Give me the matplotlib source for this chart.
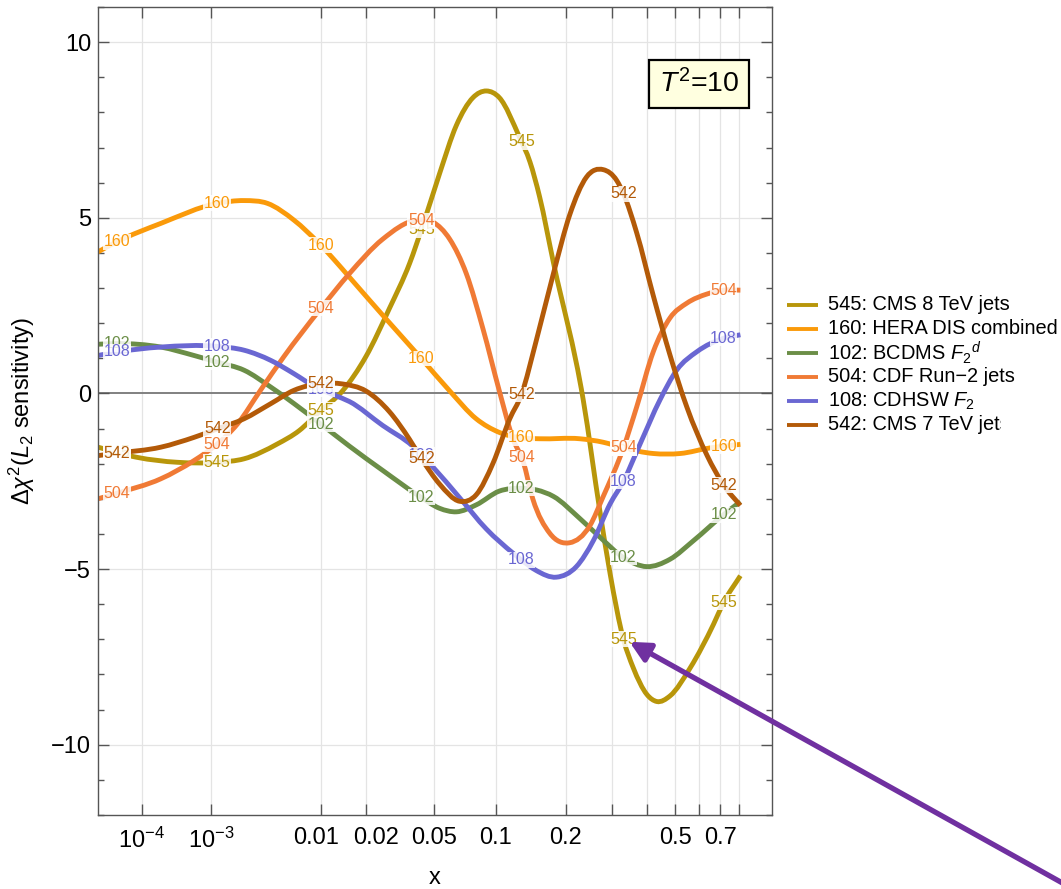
import numpy as np
import matplotlib
matplotlib.use("Agg")
import matplotlib.pyplot as plt
import matplotlib as mpl
from matplotlib.lines import Line2D
from matplotlib.path import Path
from matplotlib.patches import PathPatch
from matplotlib.transforms import Bbox, TransformedBbox, ScaledTranslation

mpl.rcParams['font.family'] = ['Liberation Sans', 'DejaVu Sans']
mpl.rcParams['mathtext.fontset'] = 'custom'
mpl.rcParams['mathtext.rm'] = 'Liberation Sans'
mpl.rcParams['mathtext.it'] = 'Liberation Sans:italic'
mpl.rcParams['mathtext.bf'] = 'Liberation Sans:bold'

# ---- data ----
x545 = [1e-5, 8.2e-5, 3.7e-4, 1.17e-3, 2.24e-3, 4.5e-3, 6.8e-3, 9.7e-3, 0.0141, 0.0201, 0.028, 0.0366,
        0.0433, 0.0532, 0.0648, 0.0782, 0.0906, 0.104, 0.128, 0.142, 0.156, 0.178, 0.234, 0.271, 0.296,
        0.331, 0.359, 0.401, 0.434, 0.481, 0.561, 0.666, 0.716, 0.806]
y545 = [-1.53, -1.82, -1.96, -1.96, -1.86, -1.44, -1.06, -0.52, 0.07, 1.05, 2.42, 3.70,
        4.78, 6.26, 7.63, 8.42, 8.61, 8.42, 7.29, 6.59, 5.6, 3.73, -0.18, -3.35, -5.14,
        -7.0, -7.81, -8.57, -8.77, -8.61, -7.81, -6.57, -5.95, -5.19]

x160 = [1e-5, 3.1e-5, 2.1e-4, 1.17e-3, 2.24e-3, 3.7e-3, 6.2e-3, 9.7e-3, 0.0124, 0.0157, 0.0255, 0.0416,
        0.06, 0.081, 0.104, 0.128, 0.156, 0.227, 0.279, 0.331, 0.422, 0.52, 0.65, 0.716, 0.806]
y160 = [4.03, 4.32, 4.84, 5.41, 5.49, 5.41, 4.93, 4.26, 3.8, 3.31, 2.23, 1.05,
        0.07, -0.72, -1.11, -1.26, -1.29, -1.29, -1.39, -1.55, -1.71, -1.71, -1.55, -1.50, -1.45]

x102 = [1e-5, 3.1e-5, 2.1e-4, 6.2e-4, 1.17e-3, 2.24e-3, 3.96e-3, 6.2e-3, 9.7e-3, 0.0157, 0.0255, 0.0416,
        0.0532, 0.0648, 0.0812, 0.104, 0.13, 0.152, 0.178, 0.227, 0.271, 0.331, 0.401, 0.481, 0.575,
        0.716, 0.806]
y102 = [1.40, 1.42, 1.32, 1.08, 0.89, 0.66, 0.18, -0.29, -0.84, -1.50, -2.19, -2.93,
        -3.27, -3.37, -3.17, -2.78, -2.70, -2.75, -2.93, -3.56, -4.09, -4.67, -4.93, -4.72, -4.19,
        -3.45, -3.08]

x504 = [1e-5, 3.1e-5, 2.1e-4, 6.2e-4, 1.17e-3, 1.92e-3, 3.2e-3, 5.1e-3, 9.7e-3, 0.0157, 0.0255, 0.0398,
        0.049, 0.06, 0.0726, 0.0873, 0.104, 0.12, 0.1326, 0.146, 0.172, 0.207, 0.248, 0.279, 0.331,
        0.369, 0.422, 0.481, 0.547, 0.635, 0.716, 0.806]
y504 = [-3.00, -2.84, -2.43, -1.91, -1.44, -0.87, 0.09, 1.04, 2.37, 3.41, 4.39, 4.93,
        4.88, 4.39, 3.41, 1.84, 0.07, -1.31, -1.93, -3.0, -3.98, -4.25, -3.77, -2.93, -1.55,
        -0.39, 1.19, 2.15, 2.57, 2.83, 2.94, 2.94]

x108 = [1e-5, 3.1e-5, 2.1e-4, 1.17e-3, 2.24e-3, 3.96e-3, 6.2e-3, 8.9e-3, 0.0124, 0.0157, 0.0255, 0.0381,
        0.049, 0.0673, 0.0906, 0.12, 0.1305, 0.151, 0.183, 0.22, 0.256, 0.296, 0.331, 0.379, 0.445,
        0.507, 0.59, 0.716, 0.806]
y108 = [1.08, 1.18, 1.32, 1.34, 1.23, 0.94, 0.56, 0.20, -0.05, -0.23, -0.91, -1.50,
        -2.09, -2.97, -3.86, -4.55, -4.74, -5.04, -5.23, -4.93, -4.19, -3.14, -2.50, -1.45, -0.18,
        0.67, 1.19, 1.57, 1.67]

x542 = [1e-5, 3.1e-5, 2.1e-4, 6.2e-4, 1.17e-3, 2.24e-3, 3.96e-3, 6.2e-3, 9.95e-3, 0.0141, 0.0201, 0.028,
        0.0366, 0.0425, 0.0532, 0.0673, 0.0812, 0.0972, 0.1159, 0.1305, 0.151, 0.178, 0.2075, 0.241,
        0.279, 0.313, 0.331, 0.369, 0.422, 0.481, 0.547, 0.635, 0.716, 0.806]
y542 = [-1.77, -1.70, -1.53, -1.25, -1.01, -0.72, -0.29, 0.09, 0.28, 0.27, 0.07, -0.52,
        -1.31, -1.85, -2.58, -3.07, -2.88, -1.99, -0.72, -0.03, 1.5, 3.41, 5.10, 6.16,
        6.37, 6.06, 5.69, 4.58, 2.78, 1.09, -0.39, -1.76, -2.61, -3.19]

ids = ["545", "160", "102", "504", "108", "542"]
names = ["545: CMS 8 TeV jets", "160: HERA DIS combined", r"102: BCDMS $F_2{}^d$",
         "504: CDF Run\u22122 jets", r"108: CDHSW $F_2$", "542: CMS 7 TeV jets"]
colors = ["#B8960A", "#FA9A0A", "#6B8E47", "#F07A35", "#6A67D2", "#B35A08"]
xs = [x545, x160, x102, x504, x108, x542]
ys = [y545, y160, y102, y504, y108, y542]

label_x = [3.1e-5, 1.17e-3, 9.95e-3, 0.0425, 0.1305, 0.331, 0.716]

xticks = [1e-4, 1e-3, 0.01, 0.02, 0.05, 0.1, 0.2, 0.3, 0.4, 0.5, 0.6, 0.7, 0.8]
xticklabels = [r"$10^{-4}$", r"$10^{-3}$", "0.01", "0.02", "0.05", "0.1", "0.2", "", "", "0.5", "", "0.7", ""]


def fwd(x):
    return np.power(np.clip(x, 1e-12, None), 0.2)


def inv(u):
    return np.power(np.clip(u, 0, None), 5)


def smooth_path(x, y):
    # cubic Bezier through the read points, built in the x**0.2 axis space
    x = np.asarray(x, float)
    y = np.asarray(y, float)
    u = fwd(x)
    h = np.diff(u)
    d = np.diff(y) / h
    m = np.empty(len(u))
    m[1:-1] = (h[:-1] * d[1:] + h[1:] * d[:-1]) / (h[:-1] + h[1:])
    m[0], m[-1] = d[0], d[-1]
    verts = [(x[0], y[0])]
    codes = [Path.MOVETO]
    for i in range(len(u) - 1):
        verts.append((inv(u[i] + h[i] / 3), y[i] + m[i] * h[i] / 3))
        verts.append((inv(u[i + 1] - h[i] / 3), y[i + 1] - m[i + 1] * h[i] / 3))
        verts.append((x[i + 1], y[i + 1]))
        codes += [Path.CURVE4] * 3
    return Path(verts, codes)


fig = plt.figure(figsize=(10.61, 8.89), dpi=100)
ax = fig.add_axes([98/1061, 74/889, 674/1061, 808/889])
ax.set_xscale('function', functions=(fwd, inv))
ax.set_xlim(1e-5, 1)
ax.set_ylim(-12, 11)

# grid
for xt in xticks:
    ax.axvline(xt, color='#E4E4E4', lw=0.9, zorder=0)
for yt in [-10, -5, 5, 10]:
    ax.axhline(yt, color='#E4E4E4', lw=0.9, zorder=0)
ax.axhline(0, color='#808080', lw=1.4, zorder=1)

for i in range(len(ids)):
    ax.add_patch(PathPatch(smooth_path(xs[i], ys[i]), fill=False, edgecolor=colors[i], lw=3.5,
                           capstyle='butt', zorder=2 + i * 0.1))

# labels along the curves
for i in range(len(ids)):
    uc = fwd(np.array(xs[i]))
    for lx in label_x:
        ly = np.interp(fwd(lx), uc, ys[i])
        ax.text(lx, ly, ids[i], color=colors[i], fontsize=11.5, ha='center', va='center',
                zorder=5 + i * 0.1,
                bbox=dict(boxstyle='square,pad=0.03', fc='white', ec='none', alpha=0.85))

ax.set_xticks(xticks)
ax.set_xticklabels(xticklabels)
ax.set_xticks([], minor=True)
ax.set_yticks([-10, -5, 0, 5, 10])
ax.set_yticks([v for v in range(-12, 12) if v % 5 != 0], minor=True)

ax.tick_params(axis='both', which='both', direction='in', top=True, right=True,
               color='#555555', width=1.0)
ax.tick_params(axis='x', which='major', length=8, pad=9, labelsize=17)
ax.tick_params(axis='y', which='major', length=8, pad=5, labelsize=17)
ax.tick_params(axis='y', which='minor', length=4.5)
for s in ax.spines.values():
    s.set_color('#555555')
    s.set_linewidth(1.0)

# spread the crowded 0.01 / 0.02 labels apart a little
xlabs = ax.get_xticklabels()
xlabs[2].set_transform(xlabs[2].get_transform() + ScaledTranslation(-0.05, 0, fig.dpi_scale_trans))
xlabs[3].set_transform(xlabs[3].get_transform() + ScaledTranslation(0.10, 0, fig.dpi_scale_trans))

ax.set_xlabel('x', fontsize=17, labelpad=10)
ax.set_ylabel(r"$\Delta\chi^2(L_2$ sensitivity)", fontsize=17)
ax.yaxis.set_label_coords(-0.091, 0.5)

ax.text(0.8917, 0.9047, r"$T^2$=10", transform=ax.transAxes, fontsize=20.5, ha='center', va='center',
        zorder=10, bbox=dict(boxstyle='square,pad=0.33', fc='#FFFFE0', ec='black', lw=1.6))

# legend drawn by hand on the right
row_y = [305, 329, 353, 377, 401, 425]
for i in range(len(ids)):
    yf = 1 - row_y[i] / 889
    fig.add_artist(Line2D([787/1061, 818/1061], [yf, yf], transform=fig.transFigure,
                          color=colors[i], lw=2.8, solid_capstyle='butt'))
    t = fig.text(828/1061, yf, names[i], fontsize=14.4, ha='left', va='center')
    if i == len(ids) - 1:
        t.set_clip_box(TransformedBbox(Bbox.from_extents(0, 0, 1001/1061, 1), fig.transFigure))
        t.set_clip_on(True)

# purple arrow pointing at the 545 label
ax.annotate('', xy=(0.348, -7.07), xycoords='data', xytext=(1.0085, 0.002), textcoords='figure fraction',
            arrowprops=dict(arrowstyle='-|>,head_length=0.6,head_width=0.3', color='#7030A0', lw=3.8,
                            mutation_scale=20, shrinkA=0, shrinkB=0),
            annotation_clip=False, zorder=20)

fig.savefig('out.png', dpi=100)
